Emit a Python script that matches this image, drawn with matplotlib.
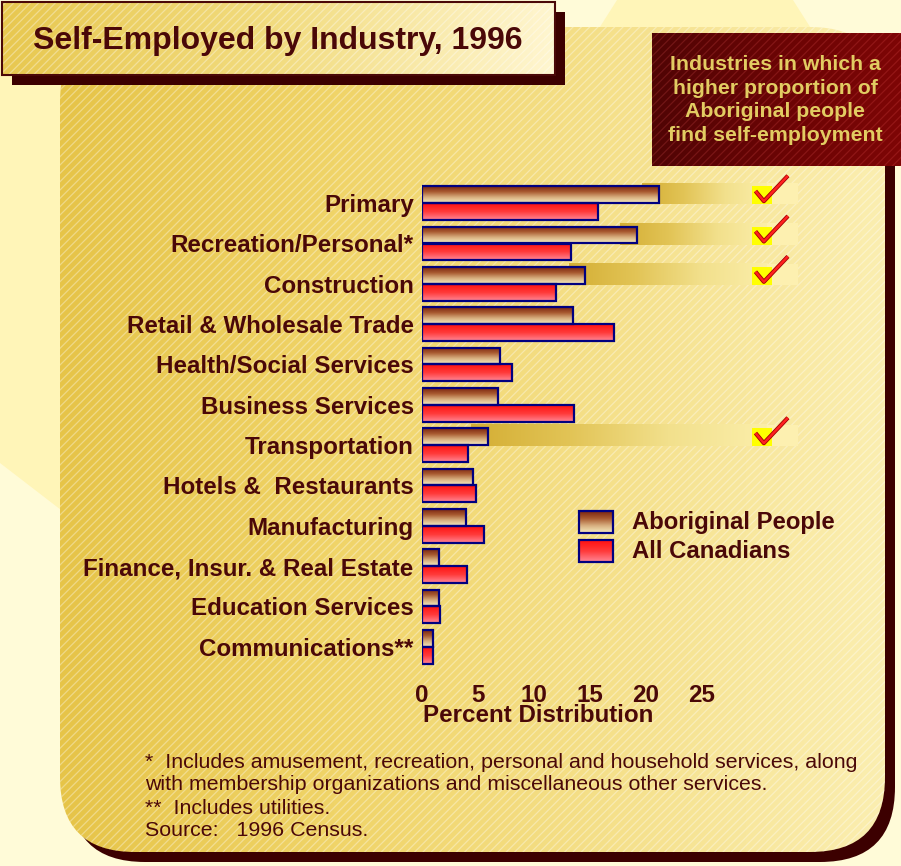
import numpy as np
import matplotlib
matplotlib.use("Agg")
import matplotlib.pyplot as plt
from matplotlib.patches import Rectangle, FancyBboxPatch, Polygon
from matplotlib.colors import LinearSegmentedColormap

plt.rcParams['font.family'] = ['Liberation Sans', 'DejaVu Sans']
plt.rcParams['hatch.linewidth'] = 0.9

# datos
industrias = ["Primary", "Recreation/Personal*", "Construction",
              "Retail & Wholesale Trade", "Health/Social Services",
              "Business Services", "Transportation", "Hotels &  Restaurants",
              "Manufacturing", "Finance, Insur. & Real Estate",
              "Education Services", "Communications**"]
aborigen = [21.2, 19.2, 14.6, 13.5, 7.0, 6.8, 5.9, 4.6, 3.9, 1.5, 1.5, 1.0]
canadienses = [15.7, 13.3, 12.0, 17.2, 8.0, 13.6, 4.1, 4.8, 5.5, 4.0, 1.6, 1.0]
series = ["Aboriginal People", "All Canadians"]
destacadas = ["Primary", "Recreation/Personal*", "Construction", "Transportation"]
xticks = [0, 5, 10, 15, 20, 25]

titulo = "Self-Employed by Industry, 1996"
nota_caja = "Industries in which a\nhigher proportion of\nAboriginal people\nfind self-employment"
notas = ["*  Includes amusement, recreation, personal and household services, along",
         "with membership organizations and miscellaneous other services.",
         "**  Includes utilities.",
         "Source:   1996 Census."]

granate = '#4a0808'
W, H = 901, 866

fig = plt.figure(figsize=(W / 100, H / 100), dpi=100)
fig.patch.set_facecolor('#fffbd8')

# ejes de fondo en pixeles
bg = fig.add_axes([0, 0, 1, 1])
bg.set_xlim(0, W)
bg.set_ylim(H, 0)
bg.axis('off')


def grad_img(colores, vertical=False, n=256):
    cmap = LinearSegmentedColormap.from_list('g', colores)
    arr = cmap(np.linspace(0, 1, n))
    if vertical:
        return arr[:, None, :]
    return arr[None, :, :]


# formas claras de fondo
bg.add_patch(Polygon([(560, 90), (617, 0), (793, 0), (850, 90)], closed=True,
                     fc='#fff5b8', ec='none', zorder=0))
bg.add_patch(Polygon([(0, 60), (100, 60), (100, 540), (0, 463)], closed=True,
                     fc='#fff5b8', ec='none', zorder=0))

# panel principal con sombra
px0, py0, px1, py1 = 60, 27, 885, 852
estilo = "round,pad=0,rounding_size=75"
bg.add_patch(FancyBboxPatch((px0 + 10, py0 + 10), px1 - px0, py1 - py0,
                            boxstyle=estilo, fc='#3c0000', ec='none', zorder=1))
panel = FancyBboxPatch((px0, py0), px1 - px0, py1 - py0,
                       boxstyle=estilo, fc='none', ec='none', zorder=2)
bg.add_patch(panel)
im = bg.imshow(grad_img(['#e6c448', '#f0d468', '#f5e08a', '#fbeeb0']),
               extent=(px0, px1, py1, py0), aspect='auto', zorder=2, origin='upper')
im.set_clip_path(panel)
bg.add_patch(FancyBboxPatch((px0, py0), px1 - px0, py1 - py0, boxstyle=estilo, fc='none',
                            ec=(1, 1, 1, 0.35), hatch='////', lw=0, zorder=3))

# caja del titulo
bg.add_patch(Rectangle((12, 12), 553, 73, fc='#3c0000', ec='none', zorder=4))
caja_t = Rectangle((2, 2), 553, 73, fc='none', ec='none', zorder=5)
bg.add_patch(caja_t)
im = bg.imshow(grad_img(['#e8c850', '#f2dc80', '#fff6d0']),
               extent=(2, 555, 75, 2), aspect='auto', zorder=5, origin='upper')
im.set_clip_path(caja_t)
bg.add_patch(Rectangle((2, 2), 553, 73, fc='none', ec=(1, 1, 1, 0.35), hatch='////', lw=0, zorder=6))
bg.add_patch(Rectangle((2, 2), 553, 73, fc='none', ec=granate, lw=1.5, zorder=6))
bg.text(33, 41, titulo, fontsize=23, fontweight='bold', color=granate,
        ha='left', va='center', zorder=7)

# caja roja
caja_r = Rectangle((652, 33), W - 652, 133, fc='none', ec='none', zorder=5)
bg.add_patch(caja_r)
im = bg.imshow(grad_img(['#500505', '#6a0404', '#7e0606']),
               extent=(652, W, 166, 33), aspect='auto', zorder=5, origin='upper')
im.set_clip_path(caja_r)
bg.add_patch(Rectangle((652, 33), W - 652, 133, fc='none', ec=(1, 0.4, 0.4, 0.18),
                       hatch='////', lw=0, zorder=6))
bg.text(775, 100, nota_caja, fontsize=15.3, fontweight='bold', color='#e2cc62',
        ha='center', va='center', linespacing=1.33, zorder=7)

# notas al pie
for i, t in enumerate(notas):
    bg.text(145, 762 + 23 * i, t, fontsize=15.4, color=granate, ha='left', va='center', zorder=7)

# ejes del grafico
x_max = 33.6
ax = fig.add_axes([422 / W, 1 - 667 / H, 376 / W, 484 / H])
ax.set_facecolor('none')
n = len(industrias)
pos = np.arange(n)
alto = 0.42

grad_ab = grad_img(['#7a2410', '#a85a30', '#d8b080', '#f6ecc0'], vertical=True)
grad_ac = grad_img(['#ff1010', '#ff3a3a', '#ff8898'], vertical=True)

# bandas de resaltado con marca de verificacion
for nombre in destacadas:
    i = industrias.index(nombre)
    ini = aborigen[i] - 1.5
    ax.imshow(grad_img(['#d4ae34', '#e2c456', '#f2e08c', '#fbeeaa']),
              extent=(ini, 30.8, i + 0.03, i - 0.5), aspect='auto', zorder=1, origin='upper')
    ax.add_patch(Rectangle((30.8, i - 0.5), x_max - 30.8, 0.53, fc='#fdf0b0', ec='none', zorder=1))
    ax.add_patch(Rectangle((29.5, i - 0.42), 1.75, 0.45, fc='#ffff00', ec='none', zorder=2))
    ax.plot([29.8, 30.55, 32.7], [i - 0.3, i - 0.05, i - 0.68], color='#a00000',
            lw=3.0, solid_capstyle='butt', zorder=3, clip_on=False)
    ax.plot([29.8, 30.55, 32.7], [i - 0.3, i - 0.05, i - 0.68], color='#ff2020',
            lw=1.8, solid_capstyle='butt', zorder=4, clip_on=False)

# barras con degradado
for i in range(n):
    ax.imshow(grad_ab, extent=(0, aborigen[i], i, i - alto), aspect='auto', zorder=5, origin='upper')
    ax.add_patch(Rectangle((0, i - alto), aborigen[i], alto, fc='none', ec='#000080', lw=1.6, zorder=6))
    ax.imshow(grad_ac, extent=(0, canadienses[i], i + alto, i), aspect='auto', zorder=5, origin='upper')
    ax.add_patch(Rectangle((0, i), canadienses[i], alto, fc='none', ec='#000080', lw=1.6, zorder=6))

ax.set_xlim(0, x_max)
ax.set_ylim(n - 0.5, -0.5)
ax.set_xticks(xticks)
ax.set_yticks(pos)
ax.set_yticklabels(industrias)
for s in ax.spines.values():
    s.set_visible(False)
ax.tick_params(axis='both', length=0, labelsize=17.4, labelcolor=granate)
ax.tick_params(axis='x', pad=12)
ax.tick_params(axis='y', pad=6)
for lab in ax.get_xticklabels() + ax.get_yticklabels():
    lab.set_fontweight('bold')

bg.text(538, 716, "Percent Distribution", fontsize=17.4, fontweight='bold', color=granate,
        ha='center', va='center', zorder=7)

# leyenda
for k, (nom, g) in enumerate(zip(series, [grad_ab, grad_ac])):
    y0 = 511 + 29 * k
    bg.imshow(g, extent=(579, 613, y0 + 22, y0), aspect='auto', zorder=7, origin='upper')
    bg.add_patch(Rectangle((579, y0), 34, 22, fc='none', ec='#000080', lw=1.6, zorder=8))
    bg.text(632, y0 + 11, nom, fontsize=17.2, fontweight='bold', color=granate,
            ha='left', va='center', zorder=8)

bg.set_xlim(0, W)
bg.set_ylim(H, 0)

fig.savefig("out.png", dpi=100)
